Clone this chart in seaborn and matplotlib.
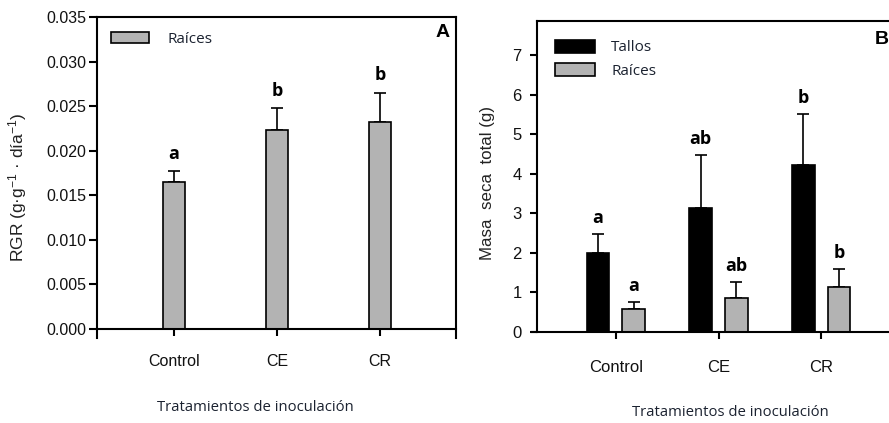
import matplotlib
matplotlib.use("Agg")
import matplotlib.pyplot as plt
from matplotlib.patches import Patch
import numpy as np
import pandas as pd
import seaborn as sns

# ---- data -------------------------------------------------------------
tratamientos = ["Control", "CE", "CR"]

# Panel A: relative growth rate of roots
rgr_raices = [0.0165, 0.0223, 0.0232]
rgr_raices_se = [0.0012, 0.0025, 0.0033]
letras_a = ["a", "b", "b"]

# Panel B: total dry mass (g)
masa_tallos = [1.99, 3.13, 4.23]
masa_tallos_se = [0.49, 1.34, 1.27]
masa_raices = [0.58, 0.87, 1.13]
masa_raices_se = [0.17, 0.39, 0.47]
letras_tallos = ["a", "ab", "b"]
letras_raices = ["a", "ab", "b"]

organos = ["Tallos", "Raíces"]
yticks_a = [0.000, 0.005, 0.010, 0.015, 0.020, 0.025, 0.030, 0.035]
yticks_b = [0, 1, 2, 3, 4, 5, 6, 7]

# ---- style ------------------------------------------------------------
sns.set_style("ticks")
plt.rcParams["font.family"] = ["Liberation Sans", "DejaVu Sans"]
plt.rcParams["mathtext.fontset"] = "custom"
plt.rcParams["mathtext.rm"] = "Liberation Sans"
plt.rcParams["mathtext.it"] = "Liberation Sans"

GRIS = "#b3b3b3"
TEXTO = "#1b2230"
SEGOE = ["Open Sans", "DejaVu Sans"]
LW = 1.5

fig = plt.figure(figsize=(8.89, 4.23), dpi=100)
fig.patch.set_facecolor("white")

W, H = 889, 423


def axes_px(left, top, right, bottom):
    return fig.add_axes([left / W, (H - bottom) / H, (right - left) / W, (bottom - top) / H])


def style_axis(ax, fs=11.5):
    for s in ax.spines.values():
        s.set_linewidth(LW)
        s.set_color("black")
        s.set_visible(True)
    ax.tick_params(axis="both", width=LW, color="black", labelsize=fs, labelcolor="#111111")


def upper_errorbars(ax, container, values, errors):
    xs = [p.get_x() + p.get_width() / 2 for p in container.patches]
    ax.errorbar(xs, values, yerr=[np.zeros(len(values)), errors], fmt="none",
                ecolor="black", elinewidth=1.2, capsize=4, capthick=1.2, zorder=1)
    return xs


def letter_labels(ax, xs, tops, labels, offset):
    for x, t, lab in zip(xs, tops, labels):
        ax.annotate(lab, (x, t), xytext=(0, offset), textcoords="offset points",
                    ha="center", va="bottom", fontsize=13, fontweight="bold",
                    family=SEGOE, color="black")


# ---- panel A ----------------------------------------------------------
axA = axes_px(97, 17, 456, 329)
dfA = pd.DataFrame({"Tratamiento": tratamientos, "RGR": rgr_raices})
sns.barplot(data=dfA, x="Tratamiento", y="RGR", color=GRIS, edgecolor="black",
            linewidth=1.2, width=0.21, errorbar=None, saturation=1, ax=axA, zorder=2)
xsA = upper_errorbars(axA, axA.containers[0], rgr_raices, rgr_raices_se)
letter_labels(axA, xsA, np.add(rgr_raices, rgr_raices_se), letras_a, 6)

axA.set_xlim(-0.748, 2.738)
axA.set_ylim(0, 0.035)
axA.set_yticks(yticks_a)
axA.set_yticklabels([f"{v:.3f}" for v in yticks_a])
style_axis(axA)
axA.tick_params(axis="y", length=6, pad=2)
axA.tick_params(axis="x", length=5, pad=13)
axA.spines["left"].set_bounds(-0.001, 0.035)
axA.spines["right"].set_bounds(-0.001, 0.035)

axA.set_xlabel("Tratamientos de inoculación", family=SEGOE, fontsize=10.7, color=TEXTO, va="center")
axA.xaxis.set_label_coords(0.440, -0.253)
axA.set_ylabel("RGR (g·g$^{-1}$ · día$^{-1}$)", fontsize=12.5, color="#222222", va="center")
axA.yaxis.set_label_coords(-0.22, 0.455)
axA.text(0.964, 0.949, "A", transform=axA.transAxes, ha="center", va="center",
         fontsize=14, fontweight="bold", color="black")

axA.legend(handles=[Patch(facecolor=GRIS, edgecolor="black", linewidth=1.2, label="Raíces")],
           loc="upper left", bbox_to_anchor=(0.0165, 0.976), frameon=False, borderpad=0,
           handlelength=2.5, handleheight=0.75, handletextpad=1.2,
           prop={"family": SEGOE, "size": 11}, labelcolor=TEXTO)

# ---- panel B ----------------------------------------------------------
axB = axes_px(537, 21, 900, 332)
dfB = pd.DataFrame({
    "Tratamiento": tratamientos * 2,
    "Órgano": [organos[0]] * 3 + [organos[1]] * 3,
    "Masa": masa_tallos + masa_raices,
})
sns.barplot(data=dfB, x="Tratamiento", y="Masa", hue="Órgano", hue_order=organos,
            palette=["black", GRIS], edgecolor="black", linewidth=1.2, width=0.7,
            gap=0.36, errorbar=None, saturation=1, ax=axB, zorder=2)
xsT = upper_errorbars(axB, axB.containers[0], masa_tallos, masa_tallos_se)
xsR = upper_errorbars(axB, axB.containers[1], masa_raices, masa_raices_se)
letter_labels(axB, xsT, np.add(masa_tallos, masa_tallos_se), letras_tallos, 5)
letter_labels(axB, xsR, np.add(masa_raices, masa_raices_se), letras_raices, 5)

axB.set_xlim(-0.77, 2.77)
axB.set_ylim(0, 7.86)
axB.set_yticks(yticks_b)
style_axis(axB, fs=12)
axB.tick_params(axis="y", length=5, pad=6)
axB.tick_params(axis="x", length=5, pad=15)
axB.spines["bottom"].set_bounds(-0.82, 2.77)

axB.set_xlabel("Tratamientos de inoculación", family=SEGOE, fontsize=10.7, color=TEXTO, va="center")
axB.xaxis.set_label_coords(0.532, -0.260)
axB.set_ylabel("Masa  seca  total (g)", fontsize=12.2, color="#222222", va="center")
axB.yaxis.set_label_coords(-0.135, 0.479)
axB.text(0.930, 0.939, "B", transform=axB.transAxes, ha="left", va="center",
         fontsize=14, fontweight="bold", color="black")

axB.legend(handles=[Patch(facecolor=c, edgecolor="black", linewidth=1.2, label=l)
                    for c, l in zip(["black", GRIS], organos)],
           loc="upper left", bbox_to_anchor=(0.028, 0.965), frameon=False, borderpad=0,
           handlelength=2.6, handleheight=0.95, handletextpad=1.1, labelspacing=0.5,
           prop={"family": SEGOE, "size": 11}, labelcolor=TEXTO)

fig.savefig("out.png", dpi=100, facecolor="white")
